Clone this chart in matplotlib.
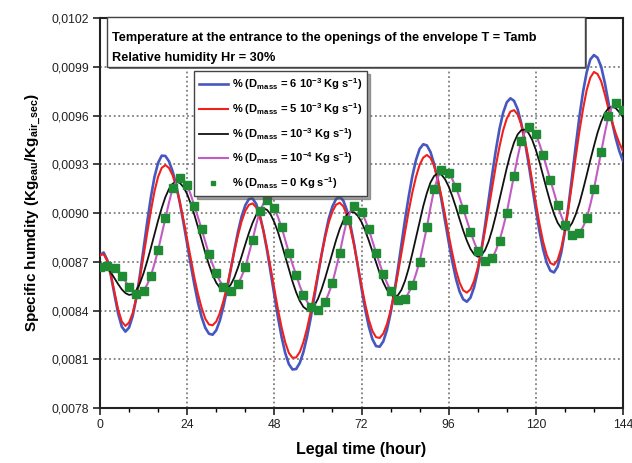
import numpy as np
import matplotlib
matplotlib.use("Agg")
import matplotlib.pyplot as plt
from matplotlib.patches import Rectangle
from matplotlib.ticker import MultipleLocator

plt.rcParams['font.family'] = ['Liberation Sans', 'DejaVu Sans']
plt.rcParams['mathtext.fontset'] = 'custom'
plt.rcParams['mathtext.rm'] = 'Liberation Sans:bold'
plt.rcParams['mathtext.bf'] = 'Liberation Sans:bold'
plt.rcParams['mathtext.it'] = 'Liberation Sans:bold'
plt.rcParams['mathtext.default'] = 'bf'

# ---- data (specific humidity in units of 1e-4 kg/kg) ----
hours = np.arange(0, 145)          # hourly time axis
hours_sq = np.arange(0, 145, 2)    # square markers every 2 h

blue_6e3 = [
    87.40, 87.57, 87.11, 86.15, 84.96, 83.81, 83.00, 82.70, 82.95, 83.66, 84.78, 86.20,
    87.81, 89.44, 90.96, 92.22, 93.09, 93.53, 93.51, 93.18, 92.56, 91.69, 90.60, 89.39,
    88.10, 86.80, 85.57, 84.46, 83.58, 82.93, 82.57, 82.51, 82.78, 83.38, 84.26, 85.33,
    86.52, 87.73, 88.85, 89.79, 90.47, 90.86, 90.89, 90.56, 89.88, 88.90, 87.69, 86.33,
    84.93, 83.58, 82.37, 81.38, 80.70, 80.37, 80.40, 80.77, 81.44, 82.38, 83.52, 84.81,
    86.14, 87.44, 88.63, 89.67, 90.40, 90.86, 91.00, 90.76, 90.15, 89.20, 88.05, 86.70,
    85.36, 84.09, 83.02, 82.24, 81.81, 81.77, 82.10, 82.80, 83.82, 85.09, 86.53, 88.07,
    89.62, 91.02, 92.27, 93.26, 93.94, 94.23, 94.16, 93.75, 93.01, 92.01, 90.82, 89.53,
    88.22, 87.01, 85.96, 85.17, 84.69, 84.54, 84.79, 85.43, 86.42, 87.71, 89.20, 90.80,
    92.40, 93.88, 95.18, 96.17, 96.81, 97.06, 96.90, 96.38, 95.51, 94.38, 93.05, 91.63,
    90.20, 88.89, 87.77, 86.94, 86.45, 86.34, 86.70, 87.56, 88.86, 90.47, 92.28, 94.15,
    95.93, 97.46, 98.66, 99.45, 99.72, 99.55, 99.00, 98.00, 96.80, 95.60, 94.60, 93.80,
    93.20]

red_5e3 = [
    87.40, 87.47, 87.05, 86.19, 85.11, 84.06, 83.32, 83.05, 83.26, 83.84, 84.78, 86.02,
    87.37, 88.77, 90.12, 91.33, 92.23, 92.78, 92.95, 92.77, 92.32, 91.59, 90.66, 89.56,
    88.37, 87.16, 86.00, 84.99, 84.15, 83.49, 83.14, 83.09, 83.32, 83.84, 84.60, 85.52,
    86.56, 87.64, 88.63, 89.49, 90.13, 90.50, 90.59, 90.35, 89.78, 88.91, 87.83, 86.60,
    85.32, 84.07, 82.96, 82.04, 81.39, 81.09, 81.11, 81.44, 82.05, 82.89, 83.91, 85.07,
    86.27, 87.43, 88.51, 89.43, 90.09, 90.51, 90.63, 90.41, 89.86, 89.01, 87.97, 86.76,
    85.55, 84.41, 83.44, 82.74, 82.36, 82.31, 82.58, 83.16, 83.98, 85.01, 86.24, 87.55,
    88.84, 90.12, 91.26, 92.22, 92.96, 93.41, 93.57, 93.39, 92.89, 92.09, 91.03, 89.88,
    88.67, 87.52, 86.49, 85.72, 85.24, 85.10, 85.30, 85.82, 86.63, 87.67, 88.91, 90.25,
    91.60, 92.92, 94.09, 95.09, 95.81, 96.24, 96.33, 96.06, 95.43, 94.48, 93.31, 91.97,
    90.62, 89.34, 88.24, 87.42, 86.92, 86.81, 87.11, 87.84, 88.94, 90.32, 91.85, 93.48,
    95.03, 96.40, 97.56, 98.33, 98.68, 98.55, 98.10, 97.30, 96.40, 95.60, 94.90, 94.30,
    93.80]

black_1e3 = [
    86.90, 86.83, 86.63, 86.34, 85.98, 85.62, 85.30, 85.07, 84.96, 85.00, 85.25, 85.68,
    86.30, 87.04, 87.84, 88.69, 89.54, 90.31, 90.98, 91.48, 91.80, 91.93, 91.85, 91.59,
    91.16, 90.56, 89.88, 89.11, 88.31, 87.53, 86.82, 86.19, 85.71, 85.40, 85.26, 85.33,
    85.59, 86.04, 86.65, 87.34, 88.07, 88.77, 89.39, 89.88, 90.18, 90.29, 90.19, 89.90,
    89.43, 88.83, 88.10, 87.32, 86.52, 85.78, 85.12, 84.59, 84.22, 84.05, 84.07, 84.30,
    84.71, 85.30, 86.00, 86.78, 87.58, 88.33, 89.01, 89.54, 89.90, 90.07, 90.04, 89.82,
    89.45, 88.93, 88.31, 87.64, 86.95, 86.30, 85.73, 85.28, 84.98, 84.85, 84.93, 85.27,
    85.84, 86.60, 87.51, 88.49, 89.49, 90.42, 91.23, 91.88, 92.28, 92.44, 92.36, 92.08,
    91.63, 91.03, 90.35, 89.62, 88.92, 88.30, 87.79, 87.46, 87.31, 87.39, 87.71, 88.25,
    88.99, 89.87, 90.84, 91.82, 92.77, 93.63, 94.34, 94.84, 95.10, 95.13, 94.92, 94.50,
    93.88, 93.14, 92.30, 91.45, 90.65, 89.95, 89.40, 89.07, 88.95, 89.06, 89.39, 89.92,
    90.60, 91.44, 92.33, 93.25, 94.12, 94.95, 95.62, 96.14, 96.45, 96.54, 96.45, 96.20,
    95.90]

magenta_1e4 = [
    86.75, 86.78, 86.74, 86.70, 86.60, 86.40, 86.12, 85.80, 85.46, 85.18, 85.02, 85.04,
    85.22, 85.60, 86.12, 86.88, 87.72, 88.70, 89.67, 90.65, 91.52, 91.95, 92.14, 92.02,
    91.72, 91.12, 90.43, 89.72, 89.00, 88.22, 87.46, 86.84, 86.29, 85.82, 85.46, 85.28,
    85.22, 85.36, 85.63, 86.10, 86.66, 87.50, 88.34, 89.28, 90.12, 90.58, 90.80, 90.62,
    90.29, 89.75, 89.12, 88.35, 87.56, 86.85, 86.18, 85.52, 84.95, 84.55, 84.23, 84.08,
    84.03, 84.22, 84.54, 85.07, 85.71, 86.60, 87.52, 88.60, 89.57, 90.12, 90.43, 90.33,
    90.08, 89.58, 89.00, 88.28, 87.56, 86.88, 86.25, 85.70, 85.22, 84.88, 84.65, 84.62,
    84.73, 85.10, 85.57, 86.25, 87.00, 88.05, 89.12, 90.35, 91.46, 92.18, 92.65, 92.65,
    92.48, 92.08, 91.58, 90.95, 90.25, 89.55, 88.85, 88.22, 87.68, 87.30, 87.06, 87.08,
    87.21, 87.70, 88.30, 89.12, 90.02, 91.18, 92.30, 93.45, 94.45, 95.00, 95.27, 95.15,
    94.84, 94.25, 93.57, 92.80, 92.03, 91.24, 90.49, 89.82, 89.26, 88.90, 88.65, 88.65,
    88.75, 89.15, 89.67, 90.52, 91.48, 92.62, 93.77, 94.92, 95.97, 96.55, 96.79, 96.65,
    96.34]

green_0 = [
    86.70, 86.74, 86.60, 86.12, 85.46, 85.02, 85.22, 86.12, 87.72, 89.67, 91.52, 92.14,
    91.72, 90.43, 89.00, 87.46, 86.29, 85.46, 85.22, 85.63, 86.66, 88.34, 90.12, 90.80,
    90.29, 89.12, 87.56, 86.18, 84.95, 84.23, 84.03, 84.54, 85.71, 87.52, 89.57, 90.43,
    90.08, 89.00, 87.56, 86.25, 85.22, 84.65, 84.73, 85.57, 87.00, 89.12, 91.46, 92.65,
    92.48, 91.58, 90.25, 88.85, 87.68, 87.06, 87.21, 88.30, 90.02, 92.30, 94.45, 95.27,
    94.84, 93.57, 92.03, 90.49, 89.26, 88.65, 88.75, 89.67, 91.48, 93.77, 95.97, 96.79,
    96.34]

labels = [
    r'% (D$_{mass}$ = 6 10$^{-3}$ Kg s$^{-1}$)',
    r'% (D$_{mass}$ = 5 10$^{-3}$ Kg s$^{-1}$)',
    r'% (D$_{mass}$ = 10$^{-3}$ Kg s$^{-1}$)',
    r'% (D$_{mass}$ = 10$^{-4}$ Kg s$^{-1}$)',
    r'% (D$_{mass}$ = 0 Kg s$^{-1}$)',
]
x_ticks = [0, 24, 48, 72, 96, 120, 144]
y_ticks = [0.0078, 0.0081, 0.0084, 0.0087, 0.0090, 0.0093, 0.0096, 0.0099, 0.0102]
y_tick_labels = ['0,0078', '0,0081', '0,0084', '0,0087', '0,0090', '0,0093',
                 '0,0096', '0,0099', '0,0102']
title_lines = ['Temperature at the entrance to the openings of the envelope T = Tamb',
               'Relative humidity Hr = 30%']
scale = 1e-4

# ---- figure ----
W, H = 632, 463
fig = plt.figure(figsize=(W / 100, H / 100), dpi=100)
L, R, T, B = 100, 623, 18, 408
ax = fig.add_axes([L / W, 1 - B / H, (R - L) / W, (B - T) / H])

ax.plot(hours, np.array(blue_6e3) * scale, color='#4757c0', lw=1.9, label=labels[0], zorder=3)
ax.plot(hours, np.array(red_5e3) * scale, color='#f2201c', lw=1.5, label=labels[1], zorder=3)
ax.plot(hours, np.array(black_1e3) * scale, color='#111111', lw=1.3, label=labels[2], zorder=3)
ax.plot(hours, np.array(magenta_1e4) * scale, color='#c25cc4', lw=1.5, label=labels[3], zorder=3)
ax.plot(hours_sq, np.array(green_0) * scale, ls='none', marker='s', ms=5.5,
        color='#1f8b33', mec='#1f8b33', label=labels[4], zorder=4)

ax.set_xlim(0, 144)
ax.set_ylim(0.0078, 0.0102)
ax.set_xticks(x_ticks)
ax.set_xticklabels([str(v) for v in x_ticks])
ax.xaxis.set_minor_locator(MultipleLocator(8))
ax.set_yticks(y_ticks)
ax.set_yticklabels(y_tick_labels)
ax.tick_params(axis='both', which='major', direction='out', length=5, width=1.2,
               labelsize=8.7, colors='#222222', pad=3)
ax.tick_params(axis='x', which='minor', direction='out', length=3, width=1.0)
for s in ax.spines.values():
    s.set_linewidth(1.5)
    s.set_color('#222222')

ax.grid(True, which='major', ls=(0, (1.2, 1.8)), color='#6a6a6a', lw=1.1)
ax.set_axisbelow(True)

ax.set_xlabel('Legal time (hour)', fontsize=11.5, fontweight='bold', labelpad=8)
ax.set_ylabel(r'Specific humdity (Kg$_{eau}$/Kg$_{air\_sec}$)', fontsize=11,
              fontweight='bold', labelpad=6)

# title box with shadow
def axfrac(px, py):
    return (px - L) / (R - L), (B - py) / (B - T)

x0, y1 = axfrac(106.5, 17)
x1, y0 = axfrac(585, 67)
sx, sy = 2.0 / (R - L), 2.0 / (B - T)
ax.add_patch(Rectangle((x0 + sx, y0 - sy), x1 - x0, y1 - y0, transform=ax.transAxes,
                       fc='#777777', ec='none', clip_on=False, zorder=5))
ax.add_patch(Rectangle((x0, y0), x1 - x0, y1 - y0, transform=ax.transAxes,
                       fc='white', ec='#444444', lw=1.0, clip_on=False, zorder=6))
tx, ty1 = axfrac(111.5, 38)
_, ty2 = axfrac(111.5, 58)
ax.text(tx, ty1, title_lines[0], transform=ax.transAxes, fontsize=9.2,
        fontweight='bold', va='center', ha='left', zorder=7)
ax.text(tx, ty2, title_lines[1], transform=ax.transAxes, fontsize=9.2,
        fontweight='bold', va='center', ha='left', zorder=7)

lx, ly = axfrac(194, 71.5)
leg = ax.legend(loc='upper left', bbox_to_anchor=(lx, ly), borderaxespad=0,
                frameon=True, fancybox=False, shadow=True,
                handlelength=2.6, handletextpad=0.35, labelspacing=0.8,
                borderpad=0.45, markerscale=0.5, prop={'weight': 'bold', 'size': 8})
leg.get_frame().set_edgecolor('#444444')
leg.get_frame().set_linewidth(1.0)
leg.set_zorder(8)

fig.savefig('out.png', dpi=100)
